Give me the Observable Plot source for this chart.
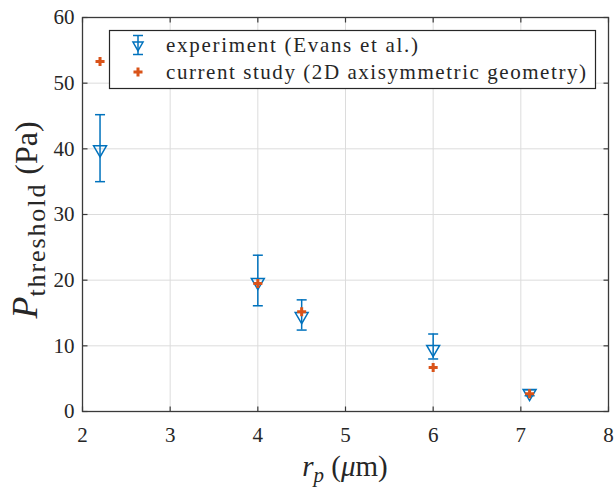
<!DOCTYPE html>
<html><head><meta charset="utf-8">
<script src="https://cdn.jsdelivr.net/npm/d3@7"></script>
<script src="https://cdn.jsdelivr.net/npm/@observablehq/plot@0.6"></script>
<style>
body{margin:0;background:#fff;}
#wrap{width:614px;height:491px;}
</style></head><body><div id="wrap"></div>
<script>
// data
const radii = [2.2, 4, 4.5, 6, 7.1];
const expMean = [39.9, 19.7, 14.5, 9.5, 2.8];
const expLow = [35.0, 16.1, 12.4, 8.0, 2.4];
const expHigh = [45.2, 23.8, 17.0, 11.8, 3.3];
const simValue = [53.3, 19.5, 15.2, 6.7, 2.7];
const xTicks = [2, 3, 4, 5, 6, 7, 8];
const yTicks = [0, 10, 20, 30, 40, 50, 60];
const legendLabels = ["experiment (Evans et al.)", "current study (2D axisymmetric geometry)"];

const blue = "#0072BD", orange = "#D95319", axisCol = "#3a3a3a";
const FONT = "Liberation Serif";

const expData = radii.map((x, i) => ({x, y: expMean[i], lo: expLow[i], hi: expHigh[i]}));
const simData = radii.map((x, i) => ({x, y: simValue[i]}));

const capSym = {draw(ctx) { ctx.moveTo(-5, 0); ctx.lineTo(5, 0); }};
const tickUp = {draw(ctx) { ctx.moveTo(0, 0); ctx.lineTo(0, -5); }};
const tickDown = {draw(ctx) { ctx.moveTo(0, 0); ctx.lineTo(0, 5); }};
const tickRight = {draw(ctx) { ctx.moveTo(0, 0); ctx.lineTo(5, 0); }};
const tickLeft = {draw(ctx) { ctx.moveTo(0, 0); ctx.lineTo(-5, 0); }};

const plot = Plot.plot({
  width: 614,
  height: 491,
  marginLeft: 82,
  marginRight: 6,
  marginTop: 17,
  marginBottom: 80,
  style: {fontFamily: FONT, background: "#fff"},
  x: {domain: [2, 8]},
  y: {domain: [0, 60]},
  marks: [
    Plot.gridX(xTicks, {stroke: "#dcdcdc", strokeOpacity: 1}),
    Plot.gridY(yTicks, {stroke: "#dcdcdc", strokeOpacity: 1}),
    Plot.dot(xTicks, {x: d => d, y: 0, symbol: tickUp, stroke: axisCol, strokeWidth: 1.2}),
    Plot.dot(xTicks, {x: d => d, y: 60, symbol: tickDown, stroke: axisCol, strokeWidth: 1.2}),
    Plot.dot(yTicks, {x: 2, y: d => d, symbol: tickRight, stroke: axisCol, strokeWidth: 1.2}),
    Plot.dot(yTicks, {x: 8, y: d => d, symbol: tickLeft, stroke: axisCol, strokeWidth: 1.2}),
    Plot.frame({stroke: axisCol, strokeWidth: 1.3}),
    Plot.axisX(xTicks, {tickSize: 0, tickPadding: 16, fontSize: 21, fontFamily: FONT, fill: "#262626", label: null}),
    Plot.axisY(yTicks, {tickSize: 0, tickPadding: 8, fontSize: 21, fontFamily: FONT, fill: "#262626", label: null}),
    Plot.ruleX(expData, {x: "x", y1: "lo", y2: "hi", stroke: blue, strokeWidth: 1.5}),
    Plot.dot(expData, {x: "x", y: "lo", symbol: capSym, stroke: blue, strokeWidth: 1.5}),
    Plot.dot(expData, {x: "x", y: "hi", symbol: capSym, stroke: blue, strokeWidth: 1.5}),
    Plot.dot(expData, {x: "x", y: "y", symbol: "triangle", r: 4.8, rotate: 180, stroke: blue, strokeWidth: 1.5, fill: "none"}),
    Plot.dot(simData, {x: "x", y: "y", symbol: "cross", r: 3.8, fill: orange, stroke: "none"})
  ]
});

const svg = d3.select(plot);
// x label
const xl = svg.append("text").attr("x", 345).attr("y", 476).attr("text-anchor", "middle")
  .attr("font-family", FONT).attr("font-size", 29).attr("fill", "#262626");
xl.append("tspan").attr("font-style", "italic").text("r");
xl.append("tspan").attr("font-style", "italic").attr("font-size", 21).attr("dy", 6).text("p");
xl.append("tspan").attr("dy", -6).text(" (");
xl.append("tspan").attr("font-style", "italic").text("μ");
xl.append("tspan").text("m)");
// y label
const yl = svg.append("text").attr("transform", "translate(37,220) rotate(-90)").attr("text-anchor", "middle")
  .attr("font-family", FONT).attr("font-size", 32).attr("fill", "#262626");
yl.append("tspan").attr("font-style", "italic").attr("font-size", 36).text("P");
yl.append("tspan").attr("font-size", 26).attr("dy", 8).attr("textLength", 112).attr("lengthAdjust", "spacing").text("threshold");
yl.append("tspan").attr("dy", -8).text(" (Pa)");

// legend
const lg = svg.append("g").attr("text-anchor", "start");
lg.append("rect").attr("x", 109.5).attr("y", 30.5).attr("width", 486).attr("height", 58)
  .attr("fill", "#fff").attr("stroke", "#262626").attr("stroke-width", 1.2);
const triPath = d3.symbol(d3.symbolTriangle2, Math.PI * 4.8 * 4.8)();
const ex = 138, ey1 = 45, ey2 = 72;
lg.append("line").attr("x1", ex).attr("x2", ex).attr("y1", ey1 - 9.5).attr("y2", ey1 + 9.5).attr("stroke", blue).attr("stroke-width", 1.5);
lg.append("line").attr("x1", ex - 5).attr("x2", ex + 5).attr("y1", ey1 - 9.5).attr("y2", ey1 - 9.5).attr("stroke", blue).attr("stroke-width", 1.5);
lg.append("line").attr("x1", ex - 5).attr("x2", ex + 5).attr("y1", ey1 + 9.5).attr("y2", ey1 + 9.5).attr("stroke", blue).attr("stroke-width", 1.5);
lg.append("path").attr("d", triPath).attr("transform", `translate(${ex},${ey1}) rotate(180)`).attr("fill", "none").attr("stroke", blue).attr("stroke-width", 1.5);
lg.append("path").attr("d", d3.symbol(d3.symbolCross, Math.PI * 3.8 * 3.8)()).attr("transform", `translate(${ex},${ey2})`).attr("fill", orange);
lg.append("text").attr("x", 166).attr("y", ey1).attr("dy", "0.32em").attr("text-anchor", "start").attr("font-family", FONT).attr("font-size", 21)
  .attr("fill", "#262626").attr("textLength", 252).attr("lengthAdjust", "spacing").text(legendLabels[0]);
lg.append("text").attr("x", 166).attr("y", ey2).attr("dy", "0.32em").attr("text-anchor", "start").attr("font-family", FONT).attr("font-size", 21)
  .attr("fill", "#262626").attr("textLength", 420).attr("lengthAdjust", "spacing").text(legendLabels[1]);

document.getElementById("wrap").appendChild(plot);
</script></body></html>
